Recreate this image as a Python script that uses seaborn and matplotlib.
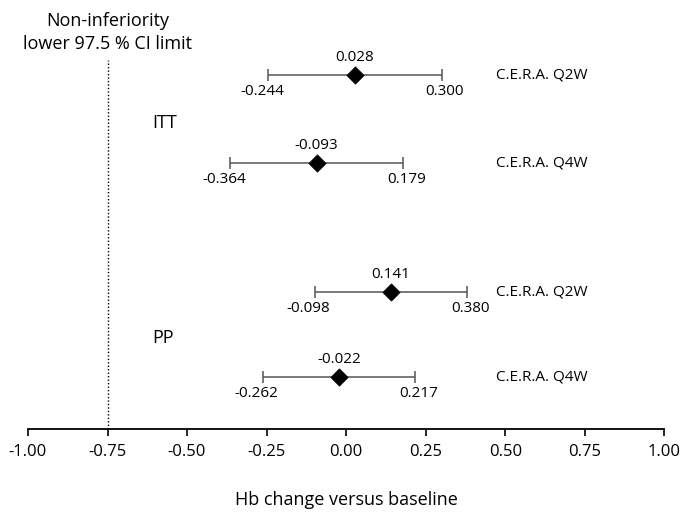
import matplotlib
matplotlib.use("Agg")
import matplotlib.pyplot as plt
import seaborn as sns
import pandas as pd

# values
groups = ["ITT", "ITT", "PP", "PP"]
arms = ["C.E.R.A. Q2W", "C.E.R.A. Q4W", "C.E.R.A. Q2W", "C.E.R.A. Q4W"]
means = [0.028, -0.093, 0.141, -0.022]
lower = [-0.244, -0.364, -0.098, -0.262]
upper = [0.300, 0.179, 0.380, 0.217]
row_pos = [3.54, 2.66, 1.37, 0.52]
group_pos = {"ITT": 3.06, "PP": 0.91}
limit = -0.75
ticks = [-1.00, -0.75, -0.50, -0.25, 0.00, 0.25, 0.50, 0.75, 1.00]

df = pd.DataFrame({"group": groups, "arm": arms, "mean": means,
                   "lower": lower, "upper": upper, "y": row_pos})

sns.set_style("white")
plt.rcParams["font.family"] = ["Open Sans", "DejaVu Sans"]
plt.rcParams["text.color"] = "black"
plt.rcParams["xtick.color"] = "black"
plt.rcParams["axes.labelcolor"] = "black"

fig = plt.figure(figsize=(6.82, 5.15), dpi=100)
ax = fig.add_axes([0.041, 0.167, 0.933, 0.833])

# confidence intervals
ax.errorbar(df["mean"], df["y"],
            xerr=[df["mean"] - df["lower"], df["upper"] - df["mean"]],
            fmt="none", ecolor="#555555", elinewidth=1.1, capsize=4.5, capthick=1.1)
sns.scatterplot(data=df, x="mean", y="y", marker="D", color="black",
                s=75, edgecolor="black", ax=ax, zorder=3, legend=False)

fs = 11
for _, r in df.iterrows():
    ax.text(r["mean"], r["y"] + 0.10, f"{r['mean']:.3f}", ha="center", va="bottom", fontsize=fs)
    ax.text(r["lower"] - 0.02, r["y"] - 0.09, f"{r['lower']:.3f}", ha="center", va="top", fontsize=fs)
    ax.text(r["upper"] + 0.01, r["y"] - 0.09, f"{r['upper']:.3f}", ha="center", va="top", fontsize=fs)
    ax.text(0.47, r["y"], r["arm"], ha="left", va="center", fontsize=fs)

for g, yy in group_pos.items():
    ax.text(-0.61, yy, g, ha="left", va="center", fontsize=13)

ax.plot([limit, limit], [0, 3.69], ls=(0, (1, 1.5)), color="black", lw=1)
ax.text(limit, 3.965, "Non-inferiority\nlower 97.5 % CI limit", ha="center",
        va="center", fontsize=13, linespacing=1.3)

ax.set_xlim(-1.0, 1.0)
ax.set_ylim(0, 4.29)
ax.set_xticks(ticks)
ax.set_xticklabels([f"{t:.2f}" for t in ticks], fontsize=12)
ax.set_yticks([])
ax.set_ylabel("")
ax.set_xlabel("Hb change versus baseline", fontsize=13, labelpad=22)
ax.tick_params(axis="x", direction="out", length=5, width=1.2, bottom=True, pad=6)
for s in ["top", "right", "left"]:
    ax.spines[s].set_visible(False)
ax.spines["bottom"].set_linewidth(1.3)
ax.spines["bottom"].set_color("black")

fig.savefig("out.png", dpi=100, facecolor="white")
